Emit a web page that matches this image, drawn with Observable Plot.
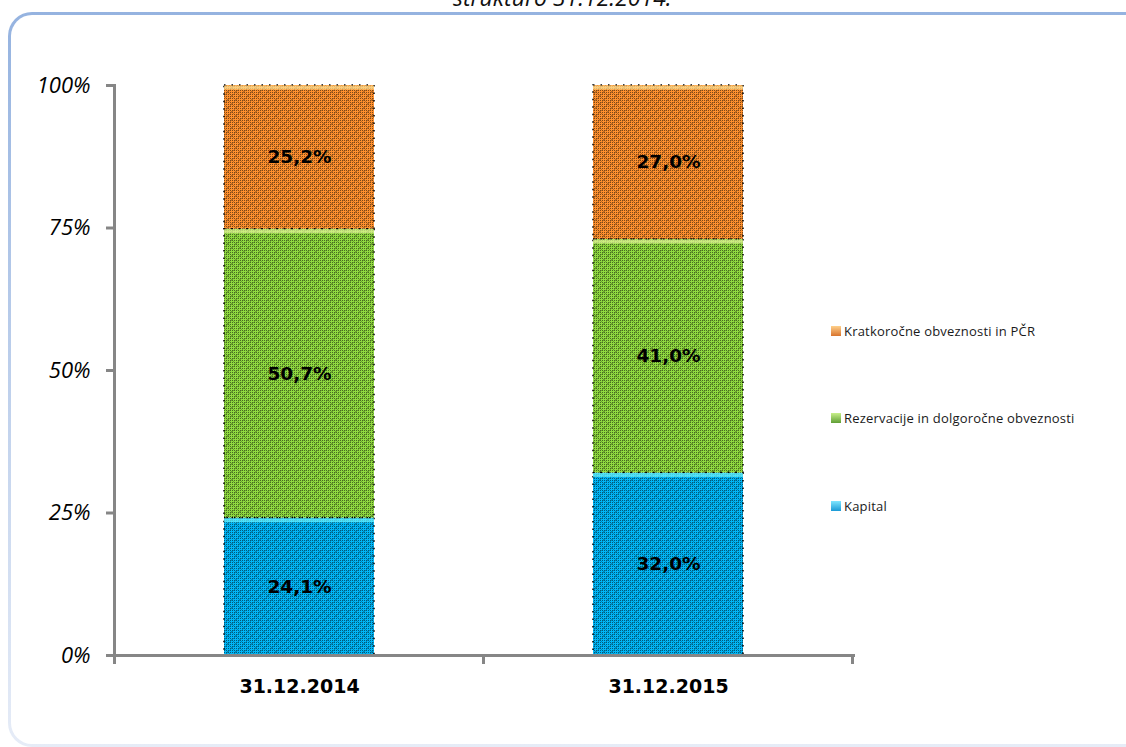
<!DOCTYPE html>
<html><head><meta charset="utf-8">
<script src="https://cdn.jsdelivr.net/npm/d3@7"></script>
<script src="https://cdn.jsdelivr.net/npm/@observablehq/plot@0.6"></script>
<style>
body{margin:0;background:#fff;width:1126px;height:747px;overflow:hidden;position:relative;font-family:"Open Sans",sans-serif;}
#frame{position:absolute;left:8px;top:12px;width:1140px;height:735px;border-radius:24px;background:linear-gradient(#95b3e0,#e6ecf7);}
#frame-inner{position:absolute;left:3px;top:3px;right:3px;bottom:3px;border-radius:21px;background:#fff;}
#title{position:absolute;top:-19px;left:453px;white-space:nowrap;font-style:italic;font-size:23px;color:#111;}
#chart{position:absolute;left:0;top:0;}
#legend{position:absolute;left:0;top:0;font-size:13px;letter-spacing:0.2px;color:#1a1a1a;}
.li{position:absolute;left:831px;white-space:nowrap;display:flex;align-items:center;height:16px;}
.sw{width:10px;height:10px;margin-right:3px;}
</style></head>
<body>
<div id="frame"><div id="frame-inner"></div></div>
<div id="chart"></div>
<div id="title">strukturo 31.12.2014.</div>
<div id="legend"></div>
<script>
const periods = ["31.12.2014", "31.12.2015"];
const series = ["Kapital", "Rezervacije in dolgoročne obveznosti", "Kratkoročne obveznosti in PČR"];
const kapital = [24.1, 32.0];
const rezervacije = [50.7, 41.0];
const kratkorocne = [25.2, 27.0];
const yTicks = [0, 25, 50, 75, 100];
const baseColors = ["#00b6f7", "#90da40", "#ff902e"];
const topColors = ["#6ff6ff", "#e4f59a", "#ffe59a"];

const values = [kapital, rezervacije, kratkorocne];
const data = periods.flatMap((p, i) => series.map((s, k) => ({period: p, series: s, k, value: values[k][i]})));

const fmt = v => v.toFixed(1).replace(".", ",") + "%";
const stackOpts = {x: "period", y: "value", z: "series", order: series};

const plot = Plot.plot({
  width: 1126, height: 747,
  marginLeft: 114, marginRight: 273, marginTop: 85, marginBottom: 92,
  style: {background: "transparent", overflow: "visible"},
  x: {type: "band", domain: periods, paddingInner: 0.594, paddingOuter: 0.297, axis: null},
  y: {domain: [0, 100], axis: null},
  color: {type: "identity"},
  marks: [
    Plot.barY(data, {...stackOpts, fill: d => baseColors[d.k]}),
    Plot.barY(data, {...stackOpts, fill: "url(#dots)", fillOpacity: 0.5, stroke: "#000", strokeWidth: 1.5, strokeDasharray: "1.5,6"}),
    Plot.tickY(data, Plot.stackY2({...stackOpts,
      stroke: d => topColors[d.k], strokeWidth: 4, strokeOpacity: 0.7, dy: 2})),
    Plot.text(data, Plot.stackY({...stackOpts,
      text: d => fmt(d.value), fontSize: 18.5, fontWeight: "bold", fill: "#000",
      fontFamily: "DejaVu Sans"})),
    Plot.frame({anchor: "left", stroke: "#868686", strokeWidth: 3}),
    Plot.frame({anchor: "bottom", stroke: "#868686", strokeWidth: 3}),
    Plot.axisY({ticks: yTicks, tickFormat: d => d + "%", tickSize: 8, tickPadding: 16, label: null,
      stroke: "#868686", strokeWidth: 3, fill: "#000", fontSize: 22, fontStyle: "italic",
      fontFamily: "Open Sans"}),
    Plot.axisX({tickSize: 0, tickPadding: 24, label: null, fontSize: 19, fontWeight: "bold", fill: "#000",
      fontFamily: "DejaVu Sans"})
  ]
});
document.getElementById("chart").appendChild(plot);

// dotted crosshatch overlay pattern
const svg = d3.select(plot);
const defs = svg.insert("defs", ":first-child");
const p = defs.append("pattern").attr("id", "dots").attr("patternUnits", "userSpaceOnUse")
  .attr("width", 8).attr("height", 8);
for (let y = 0; y < 8; y += 2) for (let x = 0; x < 8; x += 2)
  p.append("rect").attr("x", x).attr("y", y).attr("width", 1).attr("height", 1).attr("fill", "#000");
p.append("path").attr("d", "M0,0L8,8M8,0L0,8").attr("stroke", "#000")
  .attr("stroke-width", 0.7).attr("stroke-opacity", 0.7).attr("fill", "none");

// category boundary ticks on x axis
const xs = plot.scale("x"), ys = plot.scale("y");
const c0 = xs.apply(periods[0]) + xs.bandwidth / 2;
const c1 = xs.apply(periods[1]) + xs.bandwidth / 2;
const step = c1 - c0;
const y0 = ys.apply(0);
[c0 - step / 2, c0 + step / 2, c1 + step / 2].forEach(x => {
  svg.append("line").attr("x1", x).attr("x2", x).attr("y1", y0).attr("y2", y0 + 9)
    .attr("stroke", "#868686").attr("stroke-width", 3);
});

// legend
const legendY = [506, 418, 331];
const swatch = ["linear-gradient(#7fe6ff,#1a9ad6)", "linear-gradient(#c8ef8a,#5f9e35)", "linear-gradient(#ffd08a,#d8742e)"];
const leg = document.getElementById("legend");
series.forEach((s, k) => {
  const d = document.createElement("div");
  d.className = "li";
  d.style.top = (legendY[k] - 8) + "px";
  d.innerHTML = `<div class="sw" style="background:${swatch[k]}"></div><span>${s}</span>`;
  leg.appendChild(d);
});
</script>
</body></html>
